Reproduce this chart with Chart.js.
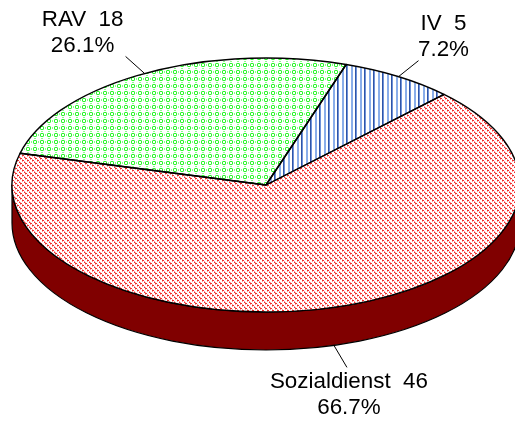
<!DOCTYPE html>
<html>
<head>
<meta charset="utf-8">
<title>Zuweisungen</title>
<script src="https://cdn.jsdelivr.net/npm/chart.js@4"></script>
<style>
  html, body { margin: 0; padding: 0; background: #fff; }
  canvas { display: block; }
</style>
</head>
<body>
<canvas id="myChart" width="515" height="423"></canvas>
<script>
const categories = ["IV", "Sozialdienst", "RAV"];
const counts = [5, 46, 18];

const tilt = 0.5; // Neigung der Ellipse
const depth = 38; // Höhe der Seitenwand
const labelFont = "22.4px 'Liberation Sans', Arial, sans-serif";
// Führungslinie: Versatz vom Rand, Text relativ zum Linienende
const leaders = [
  { dx: 20, dy: -16, tx: 25, ty: -31 },
  { dx: 13, dy: 22, tx: 2, ty: 21 },
  { dx: -19, dy: -17, tx: -43, ty: -30 },
];

// Schraffur aus kleinen Kacheln, Zeichen = Farbe
function makePattern(rows, colors) {
  const tile = document.createElement("canvas");
  tile.width = rows[0].length;
  tile.height = rows.length;
  const c = tile.getContext("2d");
  c.fillStyle = "#fff";
  c.fillRect(0, 0, tile.width, tile.height);
  rows.forEach((row, y) => {
    [...row].forEach((ch, x) => {
      if (colors[ch]) {
        c.fillStyle = colors[ch];
        c.fillRect(x, y, 1, 1);
      }
    });
  });
  const p = c.createPattern(tile, "repeat");
  // Die Ellipse wird gestaucht, das Muster soll es nicht werden
  p.setTransform(new DOMMatrix().translate(0, 1).scale(1, 1 / tilt));
  return p;
}

const ctx = document.getElementById("myChart");

const bluePattern = makePattern(
  ["bb..dD..."],
  { b: "#8aaeea", d: "#2f55a8", D: "#6f92d8" }
);
const redPattern = makePattern(
  [
    "rr...",
    "p.p..",
    "..rr.",
    "..p.p",
    "p...r",
  ],
  { r: "#f52a2a", p: "#fb9c9c" }
);
const greenPattern = makePattern(
  [
    ".g.l.g.",
    "gl...lg",
    ".......",
    "l.....l",
    ".......",
    "gl...lg",
    ".g.l.g.",
  ],
  { g: "#2cf72c", l: "#8cf98c" }
);

const squashPie = {
  id: "squashPie",
  beforeDatasetsDraw(chart) {
    const arc = chart.getDatasetMeta(0).data[0];
    const c = chart.ctx;

    // Seitenwand
    c.save();
    c.beginPath();
    c.save();
    c.translate(arc.x, arc.y);
    c.scale(1, tilt);
    c.arc(0, depth / tilt, arc.outerRadius, 0, Math.PI);
    c.arc(0, 0, arc.outerRadius, Math.PI, 0, true);
    c.closePath();
    c.restore();
    c.fillStyle = "#800000";
    c.fill();
    c.strokeStyle = "#000";
    c.lineWidth = 1.2;
    c.stroke();
    c.restore();

    c.save();
    c.translate(arc.x, arc.y);
    c.scale(1, tilt);
    c.translate(-arc.x, -arc.y);
  },
  afterDatasetsDraw(chart) {
    const c = chart.ctx;
    c.restore();
    const arcs = chart.getDatasetMeta(0).data;
    const total = counts.reduce((a, b) => a + b, 0);

    // Umrisse erst nach dem restore, sonst wird die Linie mitgestaucht
    arcs.forEach((arc) => {
      c.save();
      c.beginPath();
      c.save();
      c.translate(arc.x, arc.y);
      c.scale(1, tilt);
      c.moveTo(0, 0);
      c.arc(0, 0, arc.outerRadius, arc.startAngle, arc.endAngle);
      c.closePath();
      c.restore();
      c.strokeStyle = "#000";
      c.lineWidth = 1.4;
      c.lineJoin = "round";
      c.stroke();
      c.restore();
    });

    // Beschriftung
    c.save();
    c.font = labelFont;
    c.fillStyle = "#000";
    c.textAlign = "center";
    c.textBaseline = "alphabetic";
    arcs.forEach((arc, i) => {
      const mid = (arc.startAngle + arc.endAngle) / 2;
      const ex = arc.x + arc.outerRadius * Math.cos(mid);
      let ey = arc.y + arc.outerRadius * tilt * Math.sin(mid);
      if (Math.sin(mid) > 0) ey += depth;
      const l = leaders[i];
      c.beginPath();
      c.moveTo(ex, ey);
      c.lineTo(ex + l.dx, ey + l.dy);
      c.strokeStyle = "#000";
      c.lineWidth = 1;
      c.stroke();
      const tx = ex + l.dx + l.tx;
      const ty = ey + l.dy + l.ty;
      c.fillText(categories[i] + "  " + counts[i], tx, ty);
      c.fillText(((counts[i] / total) * 100).toFixed(1) + "%", tx, ty + 26);
    });
    c.restore();
  },
};

new Chart(ctx, {
  type: "pie",
  data: {
    labels: categories,
    datasets: [
      {
        data: counts,
        backgroundColor: [bluePattern, redPattern, greenPattern],
        borderWidth: 0,
        clip: false,
      },
    ],
  },
  options: {
    responsive: false,
    animation: false,
    rotation: 18.4,
    radius: 254,
    layout: { padding: { left: 17, bottom: 53 } },
    plugins: {
      legend: { display: false },
      tooltip: { enabled: false },
    },
    events: [],
  },
  plugins: [squashPie],
});
</script>
</body>
</html>
